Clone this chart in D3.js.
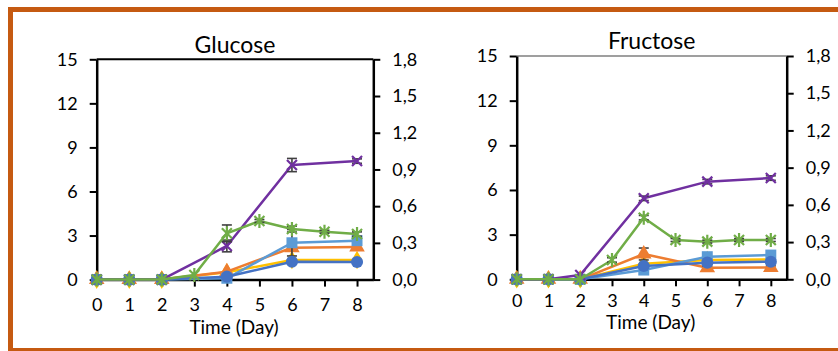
<!DOCTYPE html>
<html>
<head>
<meta charset="utf-8">
<script src="https://cdn.jsdelivr.net/npm/d3@7"></script>
<style>
  body { margin: 0; background: #fff; }
  svg { display: block; font-family: Lato, "Open Sans", sans-serif; }
</style>
</head>
<body>
<script>
// Glucose / Fructose time courses

var days = [0, 1, 2, 3, 4, 5, 6, 7, 8];
var leftTicks = [0, 3, 6, 9, 12, 15];
var rightTicks = [0, 0.3, 0.6, 0.9, 1.2, 1.5, 1.8];

// glucose panel (null = no measurement that day)
var gluYellow    = [0, 0, 0, null, 0.5,  null, 1.33, null, 1.33];
var gluOrange    = [0, 0, 0, null, 0.54, null, 2.17, null, 2.22];
var gluLightBlue = [0, 0, 0, null, 0.09, null, 2.51, null, 2.65];
var gluBlue      = [0, 0, 0, null, 0.2,  null, 1.22, null, 1.2];
var gluPurple    = [0, 0, 0, null, 2.29, null, 7.8,  null, 8.07];
var gluGreen     = [0, 0, 0, 0.31, 3.15, 3.99, 3.44, 3.26, 3.1];

var gluLightBlueErr = [0, 0, 0, null, 0, null, 0.9, null, 0.2];
var gluPurpleErr    = [0, 0, 0, null, 0.4, null, 0.45, null, 0.15];
var gluGreenErr     = [0, 0, 0, 0, 0.57, 0.1, 0.2, 0.1, 0.15];

// fructose panel
var fruYellow    = [0, 0, 0, null, 1.05, null, 1.3,  null, 1.33];
var fruOrange    = [0, 0, 0, null, 1.7,  null, 0.78, null, 0.8];
var fruLightBlue = [0, 0, 0, null, 0.62, null, 1.52, null, 1.63];
var fruBlue      = [0, 0, 0, null, 0.89, null, 1.12, null, 1.18];
var fruPurple    = [0, 0, 0.29, null, 5.44, null, 6.56, null, 6.8];
var fruGreen     = [0, 0, 0, 1.3, 4.14, 2.64, 2.53, 2.64, 2.64];

var fruOrangeErr = [0, 0, 0, null, 0.4, null, 0.1, null, 0.1];
var fruPurpleErr = [0, 0, 0, null, 0.15, null, 0.15, null, 0.15];
var fruGreenErr  = [0, 0, 0, 0.15, 0.15, 0.1, 0.1, 0.1, 0.1];

var svg = d3.select('body').append('svg')
  .attr('width', 838)
  .attr('height', 351);

// orange frame (runs off the right edge)
svg.append('rect')
  .attr('x', 10.5).attr('y', 9.5)
  .attr('width', 900).attr('height', 341)
  .attr('fill', 'none')
  .attr('stroke', '#C55A11')
  .attr('stroke-width', 5);

var markers = {
  circle: d3.symbol().type(d3.symbolCircle).size(115),
  square: d3.symbol().type(d3.symbolSquare).size(120),
  triangle: d3.symbol().type(d3.symbolTriangle).size(105),
  diamond: d3.symbol().type(d3.symbolDiamond).size(100)
};

var drawPanel = function(p) {
  var x = d3.scaleLinear().domain([0, 8.5]).range([p.left, p.right]);
  var y = d3.scaleLinear().domain([0, 15]).range([p.bottom, p.top]);
  var y2 = d3.scaleLinear().domain([0, 1.8]).range([p.bottom, p.top]);
  var g = svg.append('g');

  // top border line
  g.append('line')
    .attr('x1', p.left).attr('x2', p.right)
    .attr('y1', p.top).attr('y2', p.top)
    .attr('stroke', p.topColor).attr('stroke-width', p.topWidth);

  var ax = g.append('g').attr('transform', 'translate(0,' + p.bottom + ')')
    .call(d3.axisBottom(x).tickValues(days).tickSize(7).tickSizeOuter(0).tickPadding(12));
  var ay = g.append('g').attr('transform', 'translate(' + p.left + ',0)')
    .call(d3.axisLeft(y).tickValues(leftTicks).tickSize(7).tickSizeOuter(0).tickPadding(12));
  var ay2 = g.append('g').attr('transform', 'translate(' + p.right + ',0)')
    .call(d3.axisRight(y2).tickValues(rightTicks).tickSize(7).tickSizeOuter(0).tickPadding(12)
      .tickFormat(function(d) { return d3.format('.1f')(d).replace('.', ','); }));

  [ax, ay, ay2].forEach(function(a) {
    a.select('.domain').attr('stroke', '#000').attr('stroke-width', 2.5);
    a.selectAll('.tick line').attr('stroke', '#000').attr('stroke-width', 2);
    a.selectAll('.tick text').attr('font-size', 18).attr('fill', '#000')
      .attr('font-family', 'Lato, sans-serif');
  });
  ax.selectAll('.tick text').attr('dy', p.xLabelDy);

  g.append('text')
    .attr('x', (p.left + p.right) / 2).attr('y', p.titleY)
    .attr('text-anchor', 'middle').attr('font-size', 23)
    .text(p.title);
  g.append('text')
    .attr('x', (p.left + p.right) / 2 - 1).attr('y', p.xTitleY)
    .attr('text-anchor', 'middle').attr('font-size', 19)
    .text('Time (Day)');

  var line = d3.line()
    .x(function(d) { return x(d.day); })
    .y(function(d) { return y(d.v); });

  p.series.forEach(function(s) {
    var pts = days.map(function(d, i) {
      return { day: d, v: s.values[i], e: s.err ? s.err[i] : 0 };
    }).filter(function(d) { return d.v !== null; });

    var sg = g.append('g');
    sg.append('path')
      .datum(pts)
      .attr('d', line)
      .attr('fill', 'none')
      .attr('stroke', s.color)
      .attr('stroke-width', 2.5)
      .attr('stroke-linejoin', 'round');

    var eb = sg.selectAll('.err')
      .data(pts.filter(function(d) { return d.e > 0; }))
      .enter().append('g')
      .attr('stroke', '#404040').attr('stroke-width', 1.6);
    eb.append('line')
      .attr('x1', function(d) { return x(d.day); })
      .attr('x2', function(d) { return x(d.day); })
      .attr('y1', function(d) { return y(d.v - d.e); })
      .attr('y2', function(d) { return y(d.v + d.e); });
    [-1, 1].forEach(function(sign) {
      eb.append('line')
        .attr('x1', function(d) { return x(d.day) - 5; })
        .attr('x2', function(d) { return x(d.day) + 5; })
        .attr('y1', function(d) { return y(d.v + sign * d.e); })
        .attr('y2', function(d) { return y(d.v + sign * d.e); });
    });

    var m = sg.selectAll('.mk')
      .data(pts)
      .enter().append('g')
      .attr('transform', function(d) { return 'translate(' + x(d.day) + ',' + y(d.v) + ')'; });

    if (markers[s.shape]) {
      m.append('path')
        .attr('d', markers[s.shape]())
        .attr('fill', s.color);
    } else {
      m.append('path')
        .attr('d', 'M-5,-5L5,5M-5,5L5,-5' + (s.shape === 'star' ? 'M0,-7L0,7' : ''))
        .attr('stroke', s.color)
        .attr('stroke-width', 2.2)
        .attr('fill', 'none');
    }
  });
};

drawPanel({
  title: 'Glucose',
  left: 96.7, right: 373.3, top: 59.3, bottom: 279.6,
  titleY: 53, xTitleY: 334, xLabelDy: '0.71em',
  topColor: '#000', topWidth: 2,
  series: [
    { values: gluYellow, color: '#FFC000', shape: 'diamond' },
    { values: gluOrange, color: '#ED7D31', shape: 'triangle' },
    { values: gluLightBlue, err: gluLightBlueErr, color: '#5B9BD5', shape: 'square' },
    { values: gluBlue, color: '#4472C4', shape: 'circle' },
    { values: gluPurple, err: gluPurpleErr, color: '#7030A0', shape: 'cross' },
    { values: gluGreen, err: gluGreenErr, color: '#70AD47', shape: 'star' }
  ]
});

drawPanel({
  title: 'Fructose',
  left: 516.7, right: 786.7, top: 56, bottom: 279.3,
  titleY: 49, xTitleY: 329, xLabelDy: '0.5em',
  topColor: '#7f7f7f', topWidth: 1.5,
  series: [
    { values: fruYellow, color: '#FFC000', shape: 'diamond' },
    { values: fruOrange, err: fruOrangeErr, color: '#ED7D31', shape: 'triangle' },
    { values: fruLightBlue, color: '#5B9BD5', shape: 'square' },
    { values: fruBlue, color: '#4472C4', shape: 'circle' },
    { values: fruPurple, err: fruPurpleErr, color: '#7030A0', shape: 'cross' },
    { values: fruGreen, err: fruGreenErr, color: '#70AD47', shape: 'star' }
  ]
});
</script>
</body>
</html>
